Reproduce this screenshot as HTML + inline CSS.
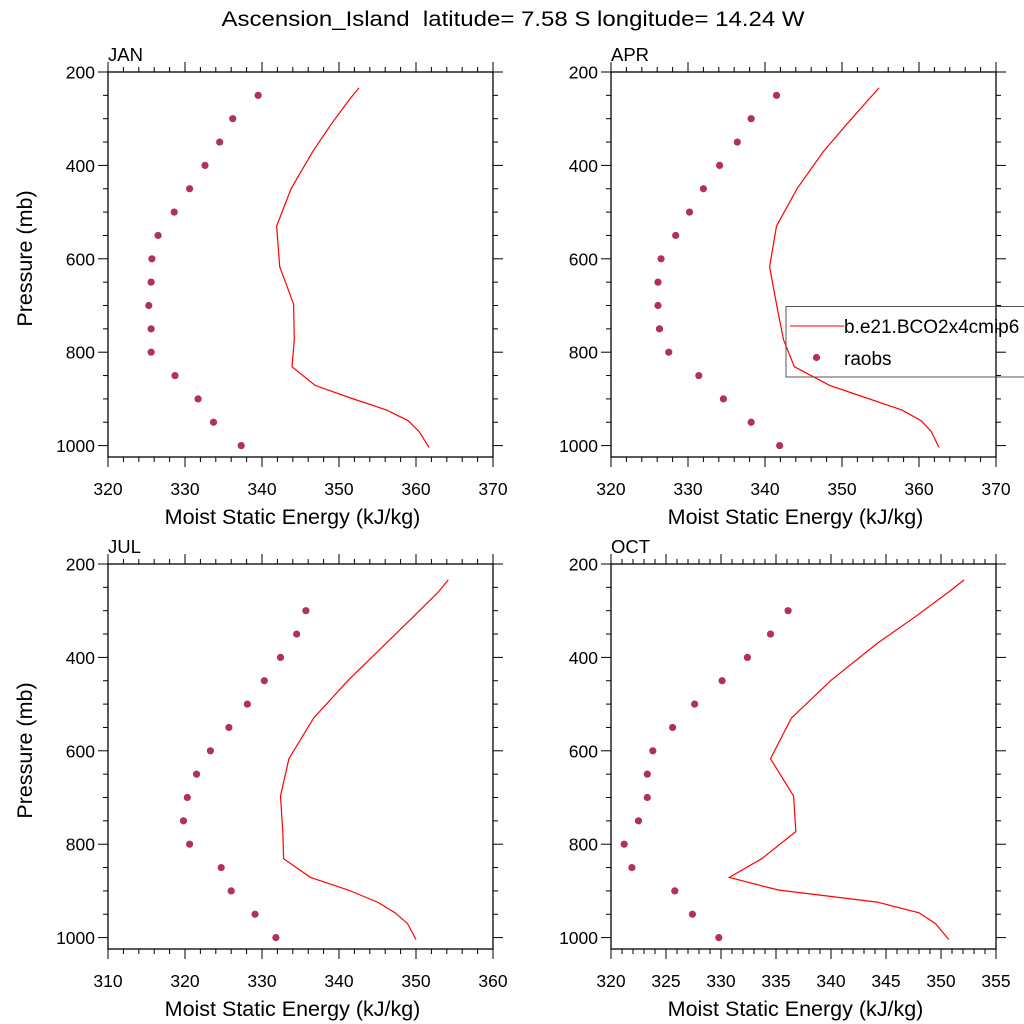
<!DOCTYPE html>
<html><head><meta charset="utf-8"><style>
html,body{margin:0;padding:0;background:#fff}
svg{display:block;font-family:"Liberation Sans",sans-serif}
</style></head><body>
<svg id="chart" width="1024" height="1024" viewBox="0 0 1024 1024">
<rect width="1024" height="1024" fill="#fff"/>
<text x="513" y="26" text-anchor="middle" font-size="21" textLength="583" lengthAdjust="spacingAndGlyphs" style="white-space:pre">Ascension_Island  latitude= 7.58 S longitude= 14.24 W</text>
</svg>
<script>
const obsLevels=[250,300,350,400,450,500,550,600,650,700,750,800,850,900,950,1000];
const modelLevels=[234,260,314,370,449,530,617,697,773,831,871,898,924,947,970,1004];
const janModel=[352.6,351.3,348.9,346.6,343.8,341.9,342.3,344.1,344.2,343.9,346.9,351.5,356.2,359.0,360.4,361.7];
const janObs=[339.5,336.2,334.5,332.6,330.6,328.6,326.5,325.7,325.6,325.3,325.6,325.6,328.7,331.7,333.7,337.3];
const aprModel=[354.8,353.4,350.5,347.6,344.2,341.5,340.6,341.5,342.4,343.8,348.4,353.2,357.8,360.3,361.6,362.6];
const aprObs=[341.5,338.2,336.4,334.1,332.0,330.2,328.4,326.5,326.1,326.1,326.3,327.5,331.4,334.6,338.2,341.9];
const julModel=[354.2,352.9,349.6,346.1,341.2,336.7,333.5,332.4,332.7,332.8,336.3,341.2,345.0,347.3,348.9,350.0];
const julObs=[null,335.7,334.5,332.4,330.3,328.1,325.7,323.3,321.5,320.3,319.8,320.6,324.7,326.0,329.1,331.8];
const octModel=[352.1,350.7,347.6,344.2,340.0,336.4,334.5,336.6,336.8,333.7,330.75,335.2,344.2,348.0,349.5,350.7];
const octObs=[null,336.1,334.5,332.4,330.1,327.6,325.6,323.8,323.3,323.3,322.5,321.2,321.9,325.8,327.4,329.8];
const janTicks=[320,330,340,350,360,370];
const julTicks=[310,320,330,340,350,360];
const octTicks=[320,325,330,335,340,345,350,355];
const yTicks=[200,400,600,800,1000];

const NS='http://www.w3.org/2000/svg';
const svg=document.getElementById('chart');
function mk(tag,attrs,parent){const e=document.createElementNS(NS,tag);for(const k in attrs)e.setAttribute(k,attrs[k]);(parent||svg).appendChild(e);return e;}

function panel(name,label,x0,y0,xTicks,minorStep,modelVals,obsVals,showY){
  const W=385,H=385,pMin=200,pMax=200+H/0.467;
  const xMin=xTicks[0],xMax=xTicks[xTicks.length-1];
  const sx=v=>x0+(v-xMin)/(xMax-xMin)*W;
  const sy=p=>y0+(p-pMin)/(pMax-pMin)*H;
  const g=mk('g',{});
  
  
  const t=mk('text',{x:x0,y:y0-11,'font-size':18.5},g);t.textContent=label;
  
  
  const fr=mk('rect',{x:x0,y:y0,width:W,height:H,fill:'none',stroke:'#000','stroke-width':1.3},g);
  
  
  for(let v=xMin;v<=xMax+1e-9;v+=minorStep){
    const major=xTicks.some(t=>Math.abs(t-v)<1e-6);const L=major?10:5;const x=sx(v);
    mk('line',{x1:x,x2:x,y1:y0,y2:y0-L,stroke:'#000','stroke-width':1},g);
    mk('line',{x1:x,x2:x,y1:y0+H,y2:y0+H+L,stroke:'#000','stroke-width':1},g);
  }
  xTicks.forEach(v=>{const tx=mk('text',{x:sx(v),y:y0+H+38,'font-size':17.5,'text-anchor':'middle'},g);tx.textContent=v;
    
    });
  for(let p=200;p<=1000;p+=50){
    const major=p%200===0;const L=major?10:5;const y=sy(p);
    mk('line',{x1:x0,x2:x0-L,y1:y,y2:y,stroke:'#000','stroke-width':1},g);
    mk('line',{x1:x0+W,x2:x0+W+L,y1:y,y2:y,stroke:'#000','stroke-width':1},g);
  }
  yTicks.forEach(p=>{const ty=mk('text',{x:x0-13,y:sy(p)+6.5,'font-size':17.5,'text-anchor':'end'},g);ty.textContent=p;
    
    });
  const xl=mk('text',{x:x0+W/2-8,y:y0+H+67,'font-size':21.5,'text-anchor':'middle'},g);xl.textContent='Moist Static Energy (kJ/kg)';
  
  
  if(showY){const yl=mk('text',{x:0,y:0,'font-size':21.5,'text-anchor':'middle',transform:`translate(32,${y0+H/2-6}) rotate(-90)`},g);yl.textContent='Pressure (mb)';
    
    }
  const pts=modelVals.map((v,i)=>sx(v).toFixed(1)+','+sy(modelLevels[i]).toFixed(1)).join(' ');
  const pl=mk('polyline',{points:pts,fill:'none',stroke:'#ff0000','stroke-width':1.2},g);
  
  
  obsVals.forEach((v,i)=>{if(v==null)return;const c=mk('circle',{cx:sx(v),cy:sy(obsLevels[i]),r:3.6,fill:'#b03060'},g);
    
    });
}
panel('jan','JAN',108,72,janTicks,2,janModel,janObs,true);
panel('apr','APR',611,72,janTicks,2,aprModel,aprObs,false);
panel('jul','JUL',108,564,julTicks,2,julModel,julObs,true);
panel('oct','OCT',611,564,octTicks,1,octModel,octObs,false);

const lg=mk('g',{});


mk('rect',{x:786,y:306.5,width:250,height:70.5,fill:'none',stroke:'#555','stroke-width':1},lg);
mk('line',{x1:790,x2:844,y1:326,y2:326,stroke:'#ff3030','stroke-width':1.2},lg);
const l1=mk('text',{x:844,y:333,'font-size':19},lg);l1.textContent='b.e21.BCO2x4cmip6';


mk('circle',{cx:816.5,cy:357.5,r:3.6,fill:'#b03060'},lg);
const l2=mk('text',{x:844,y:365,'font-size':19},lg);l2.textContent='raobs';


</script>
</body></html>
